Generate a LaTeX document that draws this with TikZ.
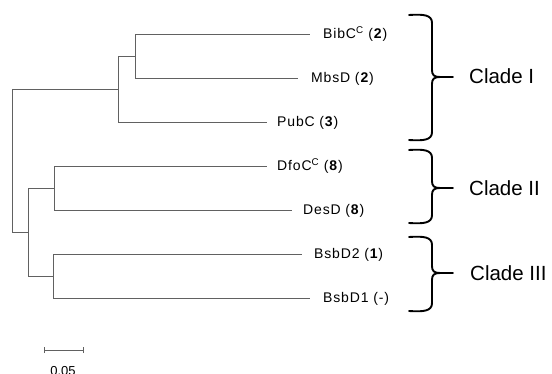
\documentclass[tikz,border=0pt]{standalone}
\usepackage{fontspec}
\setmainfont{Liberation Sans}
\newfontfamily\leaffont[LetterSpace=6]{Liberation Sans}
\begin{document}
\begin{tikzpicture}[x=1pt,y=-1pt,
  branch/.style={draw=black!62,line width=0.75pt},
  leaflabel/.style={anchor=base west,inner sep=0pt,font=\leaffont\fontsize{14}{16}\selectfont},
  cladelabel/.style={anchor=base west,inner sep=0pt,font=\fontsize{20.5}{24}\selectfont},
  bracestyle/.style={draw=black,line width=1.9pt,line cap=round,line join=round}]
\useasboundingbox (0,0) rectangle (552,374);
% internal nodes
\coordinate (root) at (12,89);
\coordinate (rootb) at (12,232);
\coordinate (c1) at (118,89);
\coordinate (c1a) at (135,56);
\coordinate (c23) at (28,232);
\coordinate (c2) at (54,188);
\coordinate (c3) at (53,276);
% leaf tips
\coordinate (tBib) at (310,34);
\coordinate (tMbs) at (298,78);
\coordinate (tPub) at (267,122);
\coordinate (tDfo) at (267,166);
\coordinate (tDes) at (292,210);
\coordinate (tBsb2) at (302,254);
\coordinate (tBsb1) at (310,298);
% tree
\draw[branch] (root) -- (rootb);
\draw[branch] (root) -- (c1);
\draw[branch] (c1) |- (c1a);
\draw[branch] (c1) |- (tPub);
\draw[branch] (c1a) |- (tBib);
\draw[branch] (c1a) |- (tMbs);
\draw[branch] (rootb) -- (c23);
\draw[branch] (c23) |- (c2);
\draw[branch] (c23) |- (c3);
\draw[branch] (c2) |- (tDfo);
\draw[branch] (c2) |- (tDes);
\draw[branch] (c3) |- (tBsb2);
\draw[branch] (c3) |- (tBsb1);
% leaf labels
\node[leaflabel] (lBib) at (323,39) {BibC\textsuperscript{C} (\textbf{2})};
\node[leaflabel] (lMbs) at (311,83) {MbsD (\textbf{2})};
\node[leaflabel] (lPub) at (277,127) {PubC (\textbf{3})};
\node[leaflabel] (lDfo) at (277,171) {DfoC\textsuperscript{C} (\textbf{8})};
\node[leaflabel] (lDes) at (303,215) {DesD (\textbf{8})};
\node[leaflabel] (lBsb2) at (314,259) {BsbD2 (\textbf{1})};
\node[leaflabel] (lBsb1) at (323,303) {BsbD1 (-)};
% braces
\newcommand{\cladebrace}[3]{%
  \draw[bracestyle] (409,#1) .. controls (424,#1-1) and (432,#1) .. (432,#1+8)
    -- (432,#2-7) .. controls (432,#2-2) and (434,#2) .. (440,#2) -- (453,#2);
  \draw[bracestyle] (440,#2) .. controls (434,#2) and (432,#2+2) .. (432,#2+7)
    -- (432,#3-8) .. controls (432,#3) and (424,#3+1) .. (409,#3);
}
\cladebrace{15}{77}{140}
\cladebrace{150}{188}{223}
\cladebrace{237}{273}{311}
\node[cladelabel] (cI) at (469,84) {Clade I};
\node[cladelabel] (cII) at (469,196) {Clade II};
\node[cladelabel] (cIII) at (470,281) {Clade III};
% scale bar
\coordinate (sbL) at (44,350);
\coordinate (sbR) at (83,350);
\draw[branch] (sbL) -- (sbR);
\draw[branch] ([yshift=-3pt]sbL) -- ([yshift=3pt]sbL);
\draw[branch] ([yshift=-3pt]sbR) -- ([yshift=3pt]sbR);
\node[anchor=base,inner sep=0pt,font=\fontsize{13}{15}\selectfont] (sblab) at (63,375) {0.05};
\end{tikzpicture}
\end{document}
